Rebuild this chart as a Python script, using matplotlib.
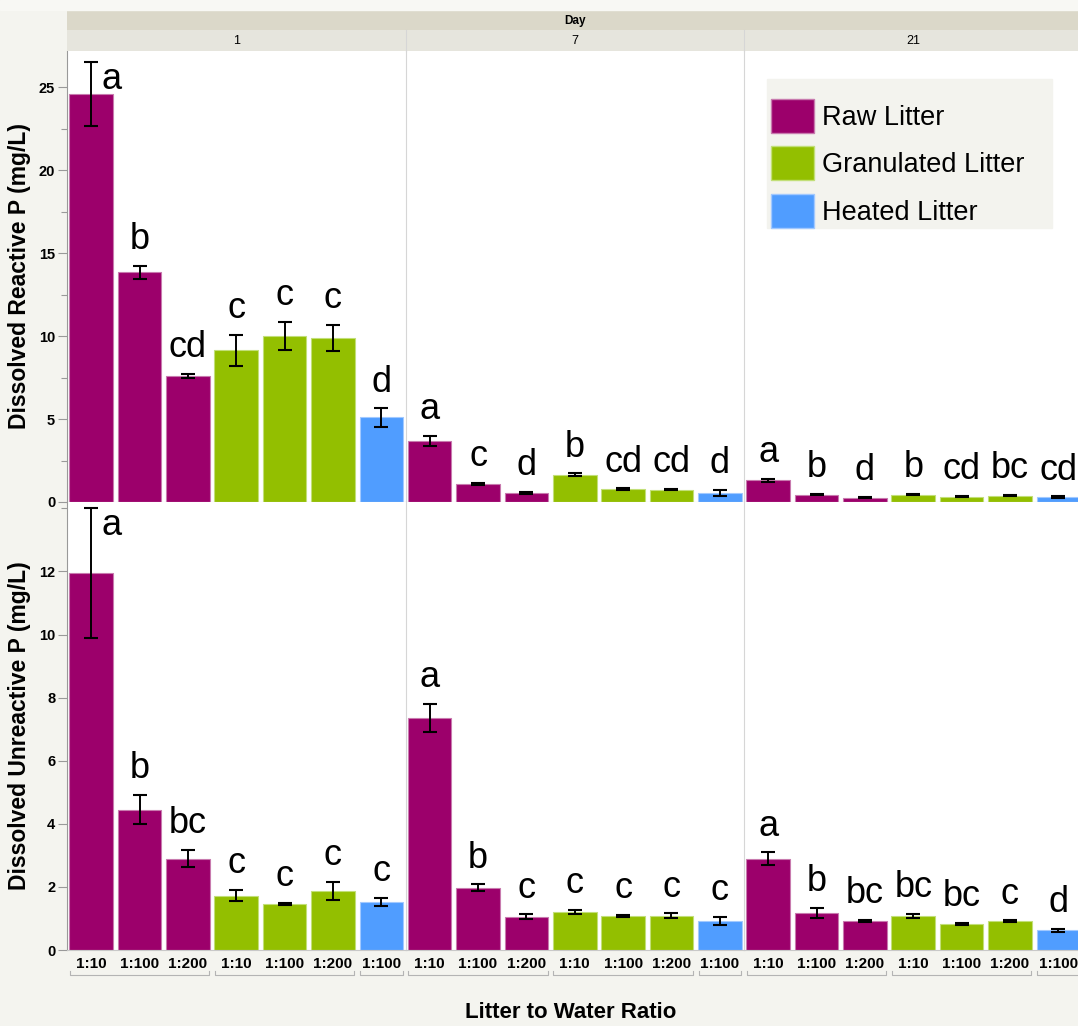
import matplotlib
# Use non-interactive backend
matplotlib.use('Agg')
import matplotlib.pyplot as plt
from matplotlib.patches import Patch, Rectangle
from matplotlib.legend_handler import HandlerPatch

# Layout of the facets
days = ['1', '7', '21']
litter_types = ['Raw Litter', 'Granulated Litter', 'Heated Litter']
bar_litter = [0, 0, 0, 1, 1, 1, 2]
ratios = ['1:10', '1:100', '1:200', '1:10', '1:100', '1:200', '1:100']
groups = [(0, 2), (3, 5), (6, 6)]

# Dissolved reactive P (mg/L), mean and error, per day
drp_mean = [
    [24.6, 13.85, 7.6, 9.15, 10.0, 9.9, 5.1],
    [3.7, 1.1, 0.55, 1.65, 0.78, 0.75, 0.55],
    [1.3, 0.45, 0.27, 0.45, 0.33, 0.38, 0.3],
]
drp_err = [
    [1.95, 0.4, 0.12, 0.95, 0.85, 0.8, 0.55],
    [0.3, 0.06, 0.05, 0.08, 0.05, 0.05, 0.2],
    [0.08, 0.04, 0.03, 0.04, 0.04, 0.04, 0.04],
]
drp_letters = [
    ['a', 'b', 'cd', 'c', 'c', 'c', 'd'],
    ['a', 'c', 'd', 'b', 'cd', 'cd', 'd'],
    ['a', 'b', 'd', 'b', 'cd', 'bc', 'cd'],
]

# Dissolved unreactive P (mg/L), mean and error, per day
dup_mean = [
    [11.95, 4.45, 2.9, 1.72, 1.46, 1.87, 1.52],
    [7.35, 1.98, 1.05, 1.2, 1.08, 1.08, 0.93],
    [2.9, 1.17, 0.93, 1.08, 0.83, 0.92, 0.62],
]
dup_err = [
    [2.05, 0.47, 0.28, 0.18, 0.04, 0.3, 0.13],
    [0.45, 0.1, 0.08, 0.07, 0.03, 0.08, 0.13],
    [0.2, 0.17, 0.03, 0.07, 0.04, 0.02, 0.06],
]
dup_letters = [
    ['a', 'b', 'bc', 'c', 'c', 'c', 'c'],
    ['a', 'b', 'c', 'c', 'c', 'c', 'c'],
    ['a', 'b', 'bc', 'bc', 'bc', 'c', 'd'],
]

# Styling
W, H = 1078, 1026
BG = '#f4f4ef'
colors = ['#9c006b', '#93bf00', '#509dff']
edges = ['#c87aae', '#c2df78', '#a2c9ff']
plt.rcParams['font.family'] = ['Liberation Sans', 'DejaVu Sans']


def fx(px):
    return px / W


def fy(py):
    return 1 - py / H


def legend_box(legend, orig_handle, xdescent, ydescent, width, height, fontsize):
    # taller swatch than the default, centred on the label
    h = 24.5
    cy = -ydescent + height / 2
    return Rectangle((-xdescent, cy - h / 2), width, h)


fig = plt.figure(figsize=(W / 100, H / 100), dpi=100, facecolor=BG)
fig.patches.append(Rectangle((0, fy(10)), 1, 10 / H, transform=fig.transFigure,
                             color='#f8f8f4', zorder=0))

col_left = [67, 405.5, 744]
col_w = 338.5
rows = [
    dict(top=51, bottom=502, ylim=27.2, major=[0, 5, 10, 15, 20, 25],
         minor=[2.5, 7.5, 12.5, 17.5, 22.5], mean=drp_mean, err=drp_err,
         letters=drp_letters, ylabel='Dissolved Reactive P (mg/L)'),
    dict(top=502, bottom=950, ylim=14.2, major=[0, 2, 4, 6, 8, 10, 12],
         minor=[14], mean=dup_mean, err=dup_err,
         letters=dup_letters, ylabel='Dissolved Unreactive P (mg/L)'),
]

x = list(range(7))
axes = []
for r, row in enumerate(rows):
    for c in range(3):
        ax = fig.add_axes([fx(col_left[c]), fy(row['bottom']), col_w / W,
                           (row['bottom'] - row['top']) / H])
        ax.set_facecolor('white')
        ax.set_xlim(-0.5, 6.5)
        ax.set_ylim(0, row['ylim'])
        mean = row['mean'][c]
        err = row['err'][c]
        ax.bar(x, mean, width=0.9, color=[colors[k] for k in bar_litter],
               edgecolor=[edges[k] for k in bar_litter], linewidth=0.8, zorder=2)
        ax.errorbar(x, mean, yerr=err, fmt='none', ecolor='black', elinewidth=1.4,
                    capsize=4.7, capthick=1.5, zorder=3)
        for i, lab in enumerate(row['letters'][c]):
            top = mean[i] + err[i]
            if top > 0.9 * row['ylim']:
                # no room above the bar, put the letter beside the error bar
                ax.annotate(lab, (i, top), xytext=(15, 0), textcoords='offset points',
                            ha='center', va='top', fontsize=26, zorder=4,
                            annotation_clip=False)
            else:
                ax.annotate(lab, (i, top), xytext=(0, 12), textcoords='offset points',
                            ha='center', va='baseline', fontsize=26, zorder=4)

        for side in ['top', 'right']:
            ax.spines[side].set_visible(False)
        ax.spines['bottom'].set_color('#c8c8c8')
        ax.spines['left'].set_color('#999999' if c == 0 else '#d6d6d6')
        ax.spines['left'].set_linewidth(0.8)
        ax.spines['bottom'].set_linewidth(0.8)

        if c == 0:
            ax.set_yticks(row['major'])
            ax.set_yticks(row['minor'], minor=True)
            ax.tick_params(axis='y', which='major', direction='out', length=6.5,
                           width=0.8, color='#999999', labelsize=10.5, pad=2)
            ax.tick_params(axis='y', which='minor', direction='out', length=4,
                           width=0.8, color='#999999')
            for t in ax.get_yticklabels():
                t.set_fontweight('bold')
            ax.set_ylabel(row['ylabel'], fontsize=16.5, fontweight='bold')
            ax.yaxis.set_label_coords((31 - col_left[0]) / col_w, 0.5)
        else:
            ax.set_yticks([])

        if r == 1:
            ax.set_xticks(x)
            ax.set_xticklabels(ratios, fontsize=11, fontweight='bold')
            ax.tick_params(axis='x', length=0, pad=5)
            # brackets under each litter group
            tr = ax.get_xaxis_transform()
            for g0, g1 in groups:
                xa, xb = g0 - 0.44, g1 + 0.44
                ax.plot([xa, xa, xb, xb], [-0.047, -0.056, -0.056, -0.047],
                        transform=tr, color='#b4b4b4', lw=0.8, clip_on=False)
        else:
            ax.set_xticks([])
        axes.append(ax)

# Header bands with the day facets
day_band = fig.add_axes([fx(67), fy(30), (W - 67) / W, 20 / H], facecolor='#dbd8c9')
day_band.set_xticks([])
day_band.set_yticks([])
for s in day_band.spines.values():
    s.set_visible(False)
fig.text(fx(575), fy(21), 'Day', ha='center', va='center', fontsize=8.5,
         fontweight='bold')

for c in range(3):
    hb = fig.add_axes([fx(col_left[c]), fy(51), col_w / W, 21 / H],
                      facecolor='#e6e5dd')
    hb.set_xticks([])
    hb.set_yticks([])
    for s in hb.spines.values():
        s.set_visible(False)
    if c > 0:
        hb.spines['left'].set_visible(True)
        hb.spines['left'].set_color('#d6d6d6')
    hb.text(0.5, 0.5, days[c], ha='center', va='center', fontsize=9,
            transform=hb.transAxes)

# Legend with its own background box
fig.patches.append(Rectangle((fx(767), fy(228)), (1052 - 767) / W, (228 - 79) / H,
                             transform=fig.transFigure, color='#f3f3ee', zorder=5))
handles = [Patch(facecolor=colors[k], edgecolor=edges[k], label=litter_types[k])
           for k in range(3)]
leg = fig.legend(handles=handles, loc='upper left',
                 bbox_to_anchor=(fx(771), fy(101)), bbox_transform=fig.transFigure,
                 handler_map={Patch: HandlerPatch(patch_func=legend_box)},
                 frameon=False, fontsize=19.5, handlelength=1.6, handleheight=1.29,
                 labelspacing=0.66, handletextpad=0.27, borderpad=0,
                 borderaxespad=0)
leg.set_zorder(6)

fig.text(fx(571), fy(1012), 'Litter to Water Ratio', ha='center', va='center',
         fontsize=16, fontweight='bold')

fig.savefig('out.png', dpi=100, facecolor=BG)
